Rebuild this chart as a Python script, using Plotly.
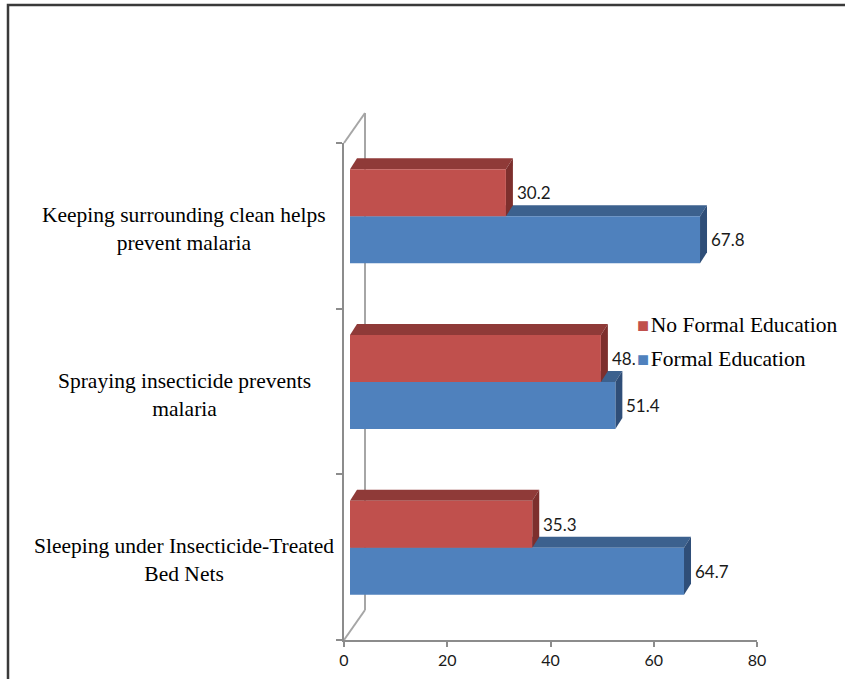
import plotly.graph_objects as go

# ---- data ----
categories = [
    "Sleeping under Insecticide-Treated<br>Bed Nets",
    "Spraying insecticide prevents<br>malaria",
    "Keeping surrounding clean helps<br>prevent malaria",
]
no_formal = [35.3, 48.6, 30.2]
formal = [64.7, 51.4, 67.8]
series_names = ["No Formal Education", "Formal Education"]
x_ticks = [0, 20, 40, 60, 80]

# ---- geometry (pixels) ----
W, H = 845, 679
PLOT_L, PLOT_R, PLOT_T, PLOT_B = 344, 757, 143, 640
X_MAX = 80
N = len(categories)
x_scale = (PLOT_R - PLOT_L) / X_MAX      # px per value unit
y_scale = (PLOT_B - PLOT_T) / N          # px per category

def px(x):
    return x / W

def py(y):
    return 1 - y / H

# 3-D projection offsets: bars sit slightly inside the box, faces recede up/right
bar_base = 6 / x_scale
bar_lift = 9.5 / y_scale
depth_dx = 7 / x_scale
depth_dy = 11 / y_scale
bar_w = 47 / y_scale

RED, RED_TOP, RED_SIDE = "#C0504D", "#8F3A38", "#7D2F2D"
BLUE, BLUE_TOP, BLUE_SIDE = "#4F81BD", "#3C618E", "#2F4E78"
AXIS = "#8C8C8C"
WALL = "#A6A6A6"

pos = list(range(N))

fig = go.Figure()
fig.add_trace(go.Bar(
    y=pos, x=formal, base=bar_base, orientation="h", name=series_names[1],
    width=bar_w, offset=bar_lift - bar_w, marker=dict(color=BLUE, line_width=0),
    showlegend=False,
))
fig.add_trace(go.Bar(
    y=pos, x=no_formal, base=bar_base, orientation="h", name=series_names[0],
    width=bar_w, offset=bar_lift, marker=dict(color=RED, line_width=0),
    showlegend=False,
))

shapes = []
# outer frame
shapes.append(dict(type="rect", xref="paper", yref="paper",
                   x0=px(8), y0=py(5), x1=px(870), y1=py(720),
                   line=dict(color="#3A3A3A", width=2.5), layer="below"))
# side wall edges
wall_x = 365
for (xa, ya, xb, yb) in [(wall_x, 113, wall_x, 610),
                         (PLOT_L, PLOT_T, wall_x, 113),
                         (PLOT_L, PLOT_B, wall_x, 610)]:
    shapes.append(dict(type="line", xref="paper", yref="paper",
                       x0=px(xa), y0=py(ya), x1=px(xb), y1=py(yb),
                       line=dict(color=WALL, width=2), layer="below"))


def faces(values, low_offset, top_col, side_col):
    out = []
    for p, v in zip(pos, values):
        y0 = p + low_offset
        y1 = y0 + bar_w
        x0 = bar_base
        x1 = bar_base + v
        top = (f"M{x0},{y1} L{x1},{y1} L{x1 + depth_dx},{y1 + depth_dy} "
               f"L{x0 + depth_dx},{y1 + depth_dy} Z")
        side = (f"M{x1},{y0} L{x1},{y1} L{x1 + depth_dx},{y1 + depth_dy} "
                f"L{x1 + depth_dx},{y0 + depth_dy} Z")
        for path, col in [(top, top_col), (side, side_col)]:
            out.append(dict(type="path", xref="x", yref="y", path=path,
                            fillcolor=col, line=dict(width=0), layer="below"))
    return out

shapes += faces(formal, bar_lift - bar_w, BLUE_TOP, BLUE_SIDE)
shapes += faces(no_formal, bar_lift, RED_TOP, RED_SIDE)

annotations = []
# category labels
for p, name in zip(pos, categories):
    annotations.append(dict(
        xref="paper", yref="y", x=px(184), y=p, yshift=-3,
        text=name, showarrow=False, xanchor="center", yanchor="middle",
        align="center",
        font=dict(family="Liberation Serif", size=21.5, color="#000000")))

# value labels
label_font = dict(family="Lato", size=17, color="#1A1A1A")
for values, center in [(formal, bar_lift - bar_w / 2), (no_formal, bar_lift + bar_w / 2)]:
    for p, v in zip(pos, values):
        annotations.append(dict(
            xref="x", yref="y", x=bar_base + v, y=p + center,
            xshift=depth_dx * x_scale + 2, text=f"{v:.1f}", showarrow=False,
            xanchor="left", yanchor="middle", font=label_font))

# legend block
for name, col, ypix in [(series_names[0], RED, 325), (series_names[1], BLUE, 359)]:
    annotations.append(dict(
        xref="paper", yref="paper", x=px(635), y=py(ypix),
        text=(f"<span style='color:{col};font-size:20px'>■</span>"
              f"<span style='font-size:7px'> </span>{name}"),
        showarrow=False, xanchor="left", yanchor="middle", align="left",
        bgcolor="#FFFFFF", borderpad=1,
        font=dict(family="Liberation Serif", size=21.5, color="#000000")))

fig.update_layout(
    width=W, height=H, autosize=False,
    margin=dict(l=0, r=0, t=0, b=0, pad=0, autoexpand=False),
    paper_bgcolor="#FFFFFF", plot_bgcolor="rgba(0,0,0,0)",
    barmode="overlay",
    showlegend=False,
    xaxis=dict(domain=[px(PLOT_L), px(PLOT_R)], range=[0, X_MAX],
               tickvals=x_ticks, ticks="outside", ticklen=5, tickwidth=1.5,
               tickcolor=AXIS, showline=True, linecolor=AXIS, linewidth=1.5,
               showgrid=False, zeroline=False, automargin=False,
               tickfont=dict(family="Lato", size=16, color="#1A1A1A")),
    yaxis=dict(domain=[py(PLOT_B), py(PLOT_T)], range=[-0.5, N - 0.5],
               tickvals=[i - 0.5 for i in range(N + 1)], ticks="outside",
               ticklen=6, tickwidth=1.5, tickcolor=AXIS, showticklabels=False,
               showline=True, linecolor=AXIS, linewidth=1.5,
               showgrid=False, zeroline=False, automargin=False),
    shapes=shapes,
    annotations=annotations,
)

fig.write_html("out.html")
